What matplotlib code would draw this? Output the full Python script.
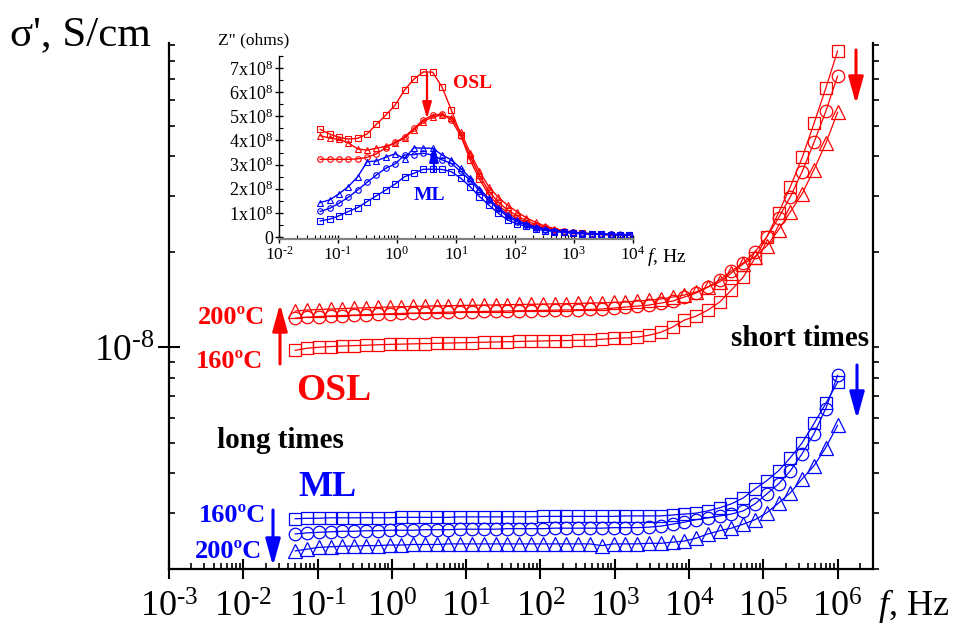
import matplotlib
matplotlib.use("Agg")
import matplotlib.pyplot as plt
from matplotlib.ticker import LogLocator, NullFormatter, FixedLocator, FuncFormatter
import math

plt.rcParams['font.family'] = ['Liberation Serif', 'DejaVu Serif']
plt.rcParams['mathtext.fontset'] = 'custom'
plt.rcParams['mathtext.rm'] = 'Liberation Serif'
plt.rcParams['mathtext.it'] = 'Liberation Serif:italic'
plt.rcParams['mathtext.bf'] = 'Liberation Serif:bold'

# frequencies, Hz
freq = [0.05, 0.0721, 0.1038, 0.1497, 0.2157, 0.3109, 0.448, 0.6457, 0.9307,
        1.341, 1.933, 2.786, 4.015, 5.787, 8.34, 12.02, 17.32, 24.97, 35.97,
        51.85, 74.71, 107.7, 155.2, 223.7, 322.3, 464.5, 669.6, 965.0, 1391,
        2004, 2889, 4163, 6000, 8647, 12460, 17960, 25880, 37300, 53760, 77480,
        111700, 160900, 231900, 334200, 481700, 694200, 1000000]

# sigma', units of 1e-8 S/cm
osl_160 = [0.978, 0.993, 1.000, 1.005, 1.009, 1.012, 1.015, 1.018, 1.021, 1.023,
           1.025, 1.027, 1.029, 1.031, 1.033, 1.035, 1.037, 1.039, 1.041, 1.043,
           1.045, 1.047, 1.049, 1.050, 1.052, 1.054, 1.060, 1.066, 1.070, 1.076,
           1.091, 1.115, 1.157, 1.218, 1.253, 1.310, 1.388, 1.515, 1.665, 1.912,
           2.229, 2.655, 3.209, 3.964, 5.078, 6.553, 8.583]
osl_180 = [1.235, 1.244, 1.250, 1.255, 1.259, 1.263, 1.267, 1.271, 1.275, 1.278,
           1.281, 1.284, 1.287, 1.290, 1.293, 1.295, 1.297, 1.299, 1.301, 1.303,
           1.305, 1.307, 1.309, 1.311, 1.313, 1.316, 1.320, 1.329, 1.339, 1.348,
           1.358, 1.378, 1.398, 1.439, 1.482, 1.548, 1.629, 1.740, 1.845, 1.998,
           2.229, 2.560, 2.984, 3.579, 4.421, 5.542, 7.149]
osl_200 = [1.300, 1.310, 1.315, 1.320, 1.324, 1.328, 1.332, 1.336, 1.339, 1.342,
           1.345, 1.348, 1.350, 1.352, 1.354, 1.356, 1.358, 1.360, 1.362, 1.364,
           1.366, 1.368, 1.370, 1.372, 1.375, 1.378, 1.381, 1.384, 1.388, 1.398,
           1.408, 1.419, 1.439, 1.461, 1.493, 1.548, 1.606, 1.715, 1.831, 1.930,
           2.087, 2.346, 2.674, 3.049, 3.632, 4.389, 5.502]
ml_160 = [0.288, 0.289, 0.289, 0.290, 0.290, 0.290, 0.290, 0.290, 0.290, 0.291,
          0.291, 0.291, 0.291, 0.291, 0.292, 0.292, 0.292, 0.292, 0.292, 0.292,
          0.292, 0.293, 0.293, 0.293, 0.293, 0.293, 0.293, 0.293, 0.294, 0.294,
          0.294, 0.294, 0.296, 0.298, 0.300, 0.305, 0.312, 0.321, 0.335, 0.358,
          0.380, 0.408, 0.449, 0.500, 0.575, 0.665, 0.775]
ml_180 = [0.258, 0.260, 0.261, 0.262, 0.263, 0.263, 0.264, 0.264, 0.265, 0.265,
          0.265, 0.266, 0.266, 0.266, 0.267, 0.267, 0.267, 0.267, 0.268, 0.268,
          0.268, 0.268, 0.269, 0.269, 0.269, 0.269, 0.269, 0.270, 0.270, 0.270,
          0.271, 0.273, 0.277, 0.281, 0.286, 0.290, 0.294, 0.298, 0.305, 0.321,
          0.345, 0.371, 0.408, 0.462, 0.534, 0.641, 0.815]
ml_200 = [0.228, 0.231, 0.234, 0.235, 0.236, 0.236, 0.237, 0.237, 0.238, 0.238,
          0.239, 0.239, 0.239, 0.240, 0.240, 0.240, 0.240, 0.240, 0.240, 0.240,
          0.240, 0.240, 0.240, 0.240, 0.240, 0.240, 0.237, 0.240, 0.240, 0.240,
          0.241, 0.241, 0.243, 0.245, 0.250, 0.258, 0.264, 0.269, 0.277, 0.286,
          0.301, 0.323, 0.348, 0.385, 0.423, 0.483, 0.567]

# inset Z'', units of 1e8 ohm (first 34 frequencies)
n_in = 34
zosl_160 = [4.46, 4.27, 4.13, 4.06, 4.09, 4.27, 4.67, 5.05, 5.47, 6.09, 6.54, 6.84,
            6.83, 6.22, 5.26, 4.23, 3.20, 2.40, 1.75, 1.32, 1.00, 0.78, 0.60, 0.45,
            0.34, 0.27, 0.22, 0.18, 0.15, 0.13, 0.11, 0.10, 0.09, 0.08]
zosl_180 = [3.22, 3.22, 3.22, 3.22, 3.24, 3.30, 3.45, 3.70, 3.92, 4.15, 4.50, 4.85,
            5.05, 5.10, 4.85, 4.20, 3.35, 2.55, 1.90, 1.45, 1.12, 0.88, 0.68, 0.52,
            0.40, 0.31, 0.24, 0.19, 0.16, 0.13, 0.11, 0.10, 0.09, 0.08]
zosl_200 = [4.20, 4.10, 4.05, 3.90, 3.65, 3.60, 3.68, 3.76, 3.90, 4.10, 4.45, 4.78,
            4.98, 5.05, 4.95, 4.35, 3.50, 2.72, 2.08, 1.65, 1.32, 1.05, 0.80, 0.61,
            0.46, 0.35, 0.27, 0.21, 0.17, 0.14, 0.12, 0.10, 0.09, 0.08]
zml_160 = [0.67, 0.74, 0.88, 1.06, 1.22, 1.47, 1.71, 1.95, 2.20, 2.50, 2.64, 2.81,
           2.81, 2.80, 2.71, 2.44, 2.09, 1.68, 1.33, 0.99, 0.71, 0.55, 0.44, 0.33,
           0.27, 0.23, 0.19, 0.16, 0.14, 0.12, 0.11, 0.10, 0.09, 0.08]
zml_180 = [1.06, 1.19, 1.40, 1.65, 1.95, 2.27, 2.57, 2.85, 3.03, 3.40, 3.42, 3.47,
           3.40, 3.20, 3.05, 2.72, 2.35, 1.92, 1.52, 1.15, 0.85, 0.64, 0.50, 0.38,
           0.31, 0.25, 0.21, 0.18, 0.15, 0.13, 0.12, 0.11, 0.10, 0.09]
zml_200 = [1.43, 1.54, 1.79, 2.09, 2.50, 3.12, 3.15, 3.31, 3.45, 3.25, 3.70, 3.68,
           3.68, 3.40, 3.20, 2.85, 2.45, 2.00, 1.60, 1.22, 0.92, 0.70, 0.55, 0.42,
           0.34, 0.27, 0.23, 0.19, 0.16, 0.14, 0.13, 0.12, 0.11, 0.10]

inset_yticks = [0, 1, 2, 3, 4, 5, 6, 7]

RED = '#ff0000'
BLUE = '#0000ff'
W, H = 959, 630


def fx(px):
    return px / W


def fy(py):
    return 1 - py / H


def pow10(v, pos=None):
    # 10^n label with a short hyphen for negative exponents, as in the original
    n = int(round(math.log10(v)))
    e = r'\text{-}%d' % -n if n < 0 else '%d' % n
    return r'$\mathdefault{10^{%s}}$' % e


fig = plt.figure(figsize=(9.59, 6.30), dpi=100)

# main axes
ax = fig.add_axes([169 / W, 1 - 569 / H, (873 - 169) / W, (569 - 43) / H])
series = [(osl_160, RED, 's', 8), (osl_180, RED, 'o', 9), (osl_200, RED, '^', 9.5),
          (ml_160, BLUE, 's', 8), (ml_180, BLUE, 'o', 9), (ml_200, BLUE, '^', 9.5)]
for vals, c, m, ms in series:
    ax.plot(freq, [v * 1e-8 for v in vals], color=c, marker=m, ms=ms, mfc='none',
            mec=c, mew=0.9, lw=0.9)

ax.set_xscale('log')
ax.set_yscale('log')
ax.set_xlim(1e-3, 3e6)
ax.set_ylim(2e-9, 9.1e-8)
ax.spines['top'].set_visible(False)
ax.spines['right'].set_visible(False)
for s in ['left', 'bottom']:
    ax.spines[s].set_linewidth(1.6)
ax.xaxis.set_major_locator(LogLocator(base=10, numticks=20))
ax.xaxis.set_minor_locator(LogLocator(base=10, subs=range(2, 10), numticks=20))
ax.xaxis.set_minor_formatter(NullFormatter())
ax.xaxis.set_major_formatter(FuncFormatter(pow10))
ax.yaxis.set_major_locator(LogLocator(base=10, numticks=20))
ax.yaxis.set_minor_locator(LogLocator(base=10, subs=range(2, 10), numticks=20))
ax.yaxis.set_minor_formatter(NullFormatter())
ax.yaxis.set_major_formatter(FuncFormatter(pow10))
ax.tick_params(axis='x', which='major', direction='inout', length=14, width=1.5,
               labelsize=26, pad=9)
ax.tick_params(axis='x', which='minor', direction='in', length=4.5, width=1.2)
ax.tick_params(axis='y', which='major', direction='inout', length=16, width=1.5,
               labelsize=27, pad=2)
ax.tick_params(axis='y', which='minor', direction='in', length=4.5, width=1.2)
ax.set_facecolor('none')

# right-hand axis line with outward ticks
axr = ax.twinx()
axr.set_yscale('log')
axr.set_ylim(ax.get_ylim())
for s in ['top', 'left', 'bottom']:
    axr.spines[s].set_visible(False)
axr.spines['right'].set_linewidth(1.6)
axr.yaxis.set_major_locator(LogLocator(base=10, numticks=20))
axr.yaxis.set_minor_locator(LogLocator(base=10, subs=range(2, 10), numticks=20))
axr.yaxis.set_major_formatter(NullFormatter())
axr.yaxis.set_minor_formatter(NullFormatter())
axr.tick_params(axis='y', which='both', direction='out', length=4, width=1.2)

fig.text(fx(10), fy(35), "σ', S/cm", fontsize=31, ha='left', va='center')
fig.text(fx(878), fy(606), r"$\mathit{f}$, Hz", fontsize=26, ha='left', va='center')

# annotations in the main plot
bold = dict(fontweight='bold', va='center')
fig.text(fx(198), fy(318), "200ºC", color=RED, fontsize=19, ha='left', **bold)
fig.text(fx(196), fy(362), "160ºC", color=RED, fontsize=19, ha='left', **bold)
fig.text(fx(296), fy(391), "OSL", color=RED, fontsize=27, ha='left', **bold)
fig.text(fx(217), fy(441), "long times", color='black', fontsize=21, ha='left', **bold)
fig.text(fx(298), fy(487), "ML", color=BLUE, fontsize=26, ha='left', **bold)
fig.text(fx(199), fy(515), "160ºC", color=BLUE, fontsize=19, ha='left', **bold)
fig.text(fx(195), fy(551), "200ºC", color=BLUE, fontsize=19, ha='left', **bold)
fig.text(fx(869), fy(339), "short times", color='black', fontsize=21, ha='right', **bold)


def arrow(x0, y0, x1, y1, color, lw, scale):
    ax.annotate('', xy=(fx(x1), fy(y1)), xytext=(fx(x0), fy(y0)),
                xycoords='figure fraction', textcoords='figure fraction',
                arrowprops=dict(arrowstyle='-|>,head_length=0.9,head_width=0.25',
                                color=color, lw=lw, shrinkA=0, shrinkB=0,
                                mutation_scale=scale))


arrow(280, 364, 280, 304, RED, 2.2, 18)
arrow(273, 510, 273, 566, BLUE, 2.2, 18)
arrow(856, 50, 856, 104, RED, 2.2, 18)
arrow(857, 365, 857, 419, BLUE, 2.2, 18)

# inset
axin = fig.add_axes([279 / W, 1 - 239 / H, (633 - 279) / W, (239 - 56) / H])
fin = freq[:n_in]
iseries = [(zosl_160, RED, 's'), (zosl_180, RED, 'o'), (zosl_200, RED, '^'),
           (zml_160, BLUE, 's'), (zml_180, BLUE, 'o'), (zml_200, BLUE, '^')]
for vals, c, m in iseries:
    axin.plot(fin, [v * 1e8 for v in vals], color=c, marker=m, ms=4, mfc='none',
              mec=c, mew=0.8, lw=1.0)
axin.set_xscale('log')
axin.set_xlim(1e-2, 1e4)
axin.set_ylim(-0.08e8, 7.5e8)
axin.set_facecolor('none')
axin.spines['top'].set_visible(False)
axin.spines['right'].set_visible(False)
axin.spines['left'].set_linewidth(1.0)
axin.spines['bottom'].set_linewidth(1.6)
axin.spines['bottom'].set_color('#808080')
axin.xaxis.set_major_locator(LogLocator(base=10, numticks=20))
axin.xaxis.set_minor_locator(LogLocator(base=10, subs=range(2, 10), numticks=20))
axin.xaxis.set_minor_formatter(NullFormatter())
axin.xaxis.set_major_formatter(FuncFormatter(pow10))
axin.yaxis.set_major_locator(FixedLocator([t * 1e8 for t in inset_yticks]))
axin.yaxis.set_minor_locator(FixedLocator([(t + 0.5) * 1e8 for t in inset_yticks]))
axin.yaxis.set_major_formatter(FuncFormatter(
    lambda v, p: '0' if v == 0 else r'$\mathdefault{%dx10^{8}}$' % round(v / 1e8)))
axin.tick_params(axis='x', which='major', direction='inout', length=6, width=1,
                 labelsize=12.5, pad=2)
axin.tick_params(axis='x', which='minor', direction='in', length=3, width=0.8)
axin.tick_params(axis='y', which='major', direction='inout', length=6, width=1,
                 labelsize=13, pad=1)
axin.tick_params(axis='y', which='minor', direction='in', length=3, width=0.8)

fig.text(fx(218), fy(40), 'Z" (ohms)', fontsize=12.5, ha='left', va='center')
fig.text(fx(647), fy(257), r"$\mathit{f}$, Hz", fontsize=14, ha='left', va='center')
fig.text(fx(453), fy(83), "OSL", color=RED, fontsize=14, ha='left', **bold)
fig.text(fx(414), fy(196), "ML", color=BLUE, fontsize=14, ha='left', **bold)
arrow(427, 74, 427, 119, RED, 1.6, 11)
arrow(434, 172, 434, 145, BLUE, 1.6, 11)

fig.savefig('out.png', dpi=100)
